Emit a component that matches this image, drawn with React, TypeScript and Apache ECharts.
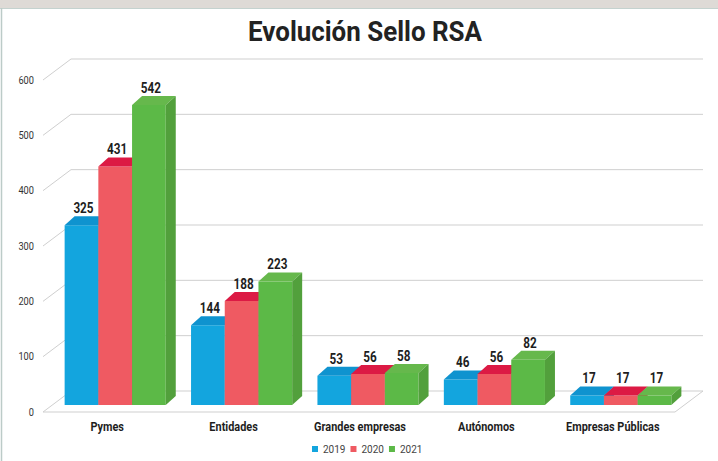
import React, { useEffect, useRef } from "react";
import * as echarts from "echarts";

const categories = ["Pymes", "Entidades", "Grandes empresas", "Autónomos", "Empresas Públicas"];
const years = ["2019", "2020", "2021"];
const values2019 = [325, 144, 53, 46, 17];
const values2020 = [431, 188, 56, 56, 17];
const values2021 = [542, 223, 58, 82, 17];
const yTicks = [0, 100, 200, 300, 400, 500, 600];
const titleText = "Evolución Sello RSA";

const frontColors = ["#13a5de", "#ef5a62", "#5cb947"];
const topColors = ["#0f93cf", "#dc1a44", "#66b84c"];
const sideColors = ["#0c86bd", "#c8283c", "#52a03c"];

const FONT = "Roboto, 'Noto Sans', sans-serif";
const NARROW_SCALE = 0.84;

const BAR_DX = 10;
const BAR_DY = 9;
const FRONT_DX = -9;
const FRONT_DY = 7;
const BACK_DX = 19;
const BACK_DY = -14;
const GROUP_FRAC = 0.8;
const GRID_COLOR = "#cfcfcf";

function measure(text: string, font: string): number {
  const ctx = document.createElement("canvas").getContext("2d");
  if (!ctx) return text.length * 14;
  ctx.font = font;
  return ctx.measureText(text).width;
}

function barRenderer(idx: number) {
  return (params: any, api: any) => {
    const cat = api.value(0);
    const val = api.value(1);
    const top = api.coord([cat, val]);
    const base = api.coord([cat, 0]);
    const band = api.size([1, 0])[0];
    const bw = (band * GROUP_FRAC) / 3;
    const x0 = top[0] - 1.5 * bw + idx * bw;
    const x1 = x0 + bw;
    const yT = top[1];
    const yB = base[1];
    return {
      type: "group",
      children: [
        {
          type: "rect",
          shape: { x: x0, y: yT, width: bw, height: yB - yT },
          style: { fill: frontColors[idx] },
        },
        {
          type: "polygon",
          shape: { points: [[x0, yT], [x1, yT], [x1 + BAR_DX, yT - BAR_DY], [x0 + BAR_DX, yT - BAR_DY]] },
          style: { fill: topColors[idx] },
        },
        {
          type: "polygon",
          shape: { points: [[x1, yT], [x1 + BAR_DX, yT - BAR_DY], [x1 + BAR_DX, yB - BAR_DY], [x1, yB]] },
          style: { fill: sideColors[idx] },
        },
        {
          type: "text",
          z2: 50,
          x: x0 + bw / 2 + 2,
          y: yT - 10,
          scaleX: NARROW_SCALE,
          style: {
            text: String(val),
            align: "center",
            verticalAlign: "bottom",
            fontFamily: FONT,
            fontWeight: "bold",
            fontSize: 14,
            fill: "#1e1e1e",
          },
        },
      ],
    };
  };
}

function gridRenderer(params: any, api: any) {
  const v = api.value(1);
  const y = api.coord([0, v])[1];
  const cs = params.coordSys;
  const xl = cs.x;
  const xr = cs.x + cs.width;
  const ls = { stroke: GRID_COLOR, lineWidth: 1 };
  const children: any[] = [
    { type: "line", shape: { x1: xl + FRONT_DX, y1: y + FRONT_DY, x2: xl + BACK_DX, y2: y + BACK_DY }, style: ls },
    { type: "line", shape: { x1: xl + BACK_DX, y1: y + BACK_DY, x2: xr + BACK_DX, y2: y + BACK_DY }, style: ls },
    {
      type: "text",
      x: xl + FRONT_DX - 9,
      y: y + FRONT_DY,
      scaleX: NARROW_SCALE,
      style: {
        text: String(v),
        align: "right",
        verticalAlign: "middle",
        fontFamily: FONT,
        fontSize: 11,
        fill: "#333",
      },
    },
  ];
  if (v === 0) {
    children.push(
      { type: "line", shape: { x1: xl + FRONT_DX, y1: y + FRONT_DY, x2: xr + FRONT_DX, y2: y + FRONT_DY }, style: ls },
      { type: "line", shape: { x1: xr + FRONT_DX, y1: y + FRONT_DY, x2: xr + BACK_DX, y2: y + BACK_DY }, style: ls }
    );
  }
  return { type: "group", children };
}

function categoryRenderer(params: any, api: any) {
  const i = api.value(0);
  const p = api.coord([i, 0]);
  return {
    type: "text",
    x: p[0] + FRONT_DX + 1,
    y: p[1] + 22,
    scaleX: NARROW_SCALE,
    style: {
      text: categories[i],
      align: "center",
      verticalAlign: "middle",
      fontFamily: FONT,
      fontWeight: "bold",
      fontSize: 13,
      fill: "#1e1e1e",
    },
  };
}

export default function App() {
  const ref = useRef<HTMLDivElement>(null);
  useEffect(() => {
    if (!ref.current) return;
    const chart = echarts.init(ref.current, undefined, { renderer: "svg" });
    const allValues = [values2019, values2020, values2021];
    const titleScale = 234 / measure(titleText, "bold 28px Roboto");
    chart.setOption({
      animation: false,
      backgroundColor: "#ffffff",
      grid: { left: 52, width: 632, top: 73, height: 332 },
      xAxis: {
        type: "category",
        data: categories,
        axisLine: { show: false },
        axisTick: { show: false },
        splitLine: { show: false },
        axisLabel: { show: false },
      },
      yAxis: { type: "value", min: 0, max: 600, interval: 100, show: false },
      legend: {
        data: years,
        left: 312,
        top: 444,
        icon: "rect",
        itemWidth: 6,
        itemHeight: 6,
        itemGap: 5,
        padding: 0,
        textStyle: { fontFamily: FONT, fontSize: 10, color: "#444" },
      },
      graphic: [
        { type: "rect", shape: { x: 0, y: 0, width: 718, height: 8 }, style: { fill: "#dedad6" } },
        { type: "line", shape: { x1: 0, y1: 8.5, x2: 718, y2: 8.5 }, style: { stroke: "#c4d2cf", lineWidth: 1 } },
        { type: "line", shape: { x1: 1.5, y1: 8, x2: 1.5, y2: 461 }, style: { stroke: "#bccbc8", lineWidth: 1.5 } },
        {
          type: "text",
          x: 365,
          y: 32,
          scaleX: titleScale,
          style: {
            text: titleText,
            align: "center",
            verticalAlign: "middle",
            fontFamily: FONT,
            fontWeight: "bold",
            fontSize: 28,
            fill: "#222",
          },
        },
      ],
      series: [
        {
          type: "custom",
          z: 1,
          renderItem: gridRenderer,
          encode: { x: 0, y: 1 },
          data: yTicks.map((v) => [0, v]),
          silent: true,
        },
        {
          type: "custom",
          z: 1,
          renderItem: categoryRenderer,
          encode: { x: 0, y: 1 },
          data: categories.map((_, i) => [i, 0]),
          silent: true,
        },
        ...years.map((yr, i) => ({
          type: "custom",
          name: yr,
          z: 2 + i,
          itemStyle: { color: frontColors[i] },
          renderItem: barRenderer(i),
          encode: { x: 0, y: 1 },
          data: allValues[i].map((v, c) => [c, v]),
        })),
      ],
    });
    return () => chart.dispose();
  }, []);
  return <div ref={ref} style={{ position: "absolute", left: 0, top: 0, width: 718, height: 461 }} />;
}
